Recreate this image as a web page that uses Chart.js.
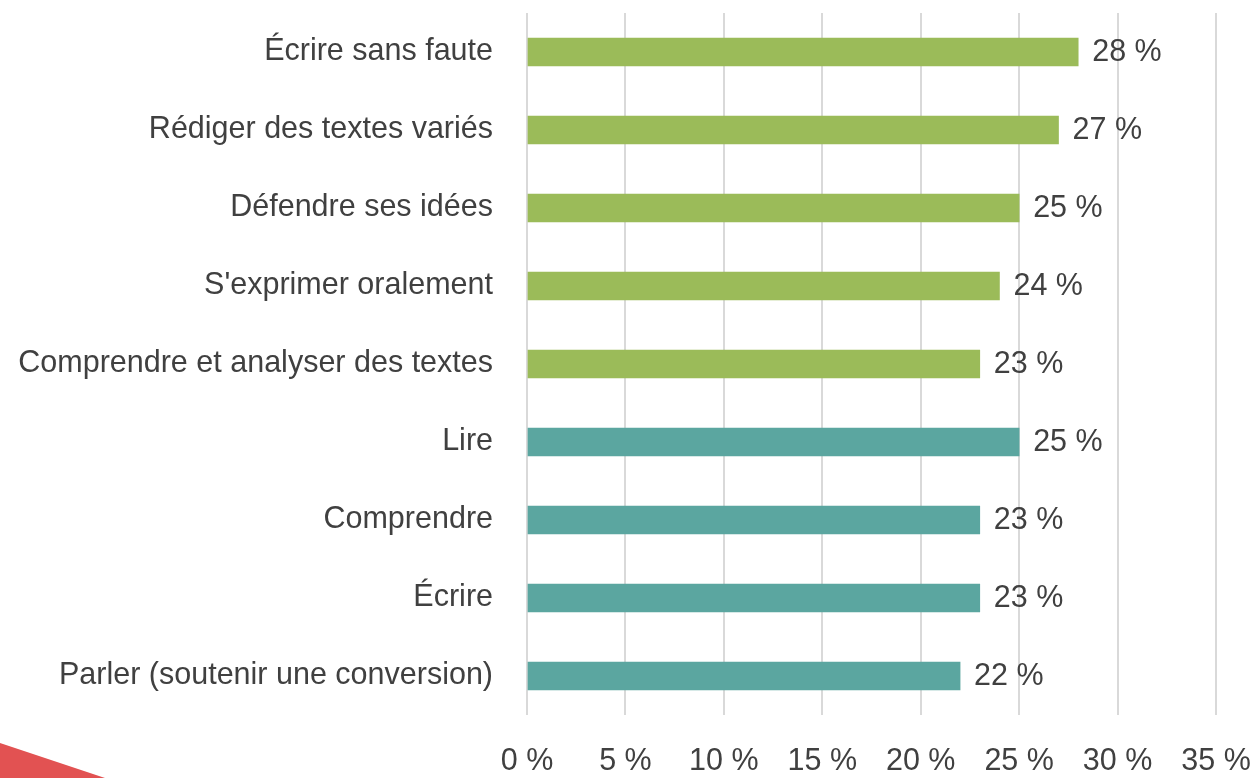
<!DOCTYPE html>
<html><head><meta charset="utf-8">
<script src="https://cdn.jsdelivr.net/npm/chart.js@4"></script>
<style>html,body{margin:0;padding:0;background:#fff}#wrap{width:1254px;height:778px;position:relative}</style>
</head><body><div id="wrap"><canvas id="c"></canvas></div>
<script>
const categories = ["Écrire sans faute","Rédiger des textes variés","Défendre ses idées","S'exprimer oralement","Comprendre et analyser des textes","Lire","Comprendre","Écrire","Parler (soutenir une conversion)"];
const values = [28,27,25,24,23,25,23,23,22];
const barColors = ["#9BBB59","#9BBB59","#9BBB59","#9BBB59","#9BBB59","#5BA6A0","#5BA6A0","#5BA6A0","#5BA6A0"];
const xTicks = [0,5,10,15,20,25,30,35];
const FONT = "'Liberation Sans Narrow', 'Liberation Sans', Arial, sans-serif";
const FS = 30.5;
const TXT = "#404040";

const labelPlugin = {
  id:'vals',
  afterDatasetsDraw(chart){
    const ctx = chart.ctx; const meta = chart.getDatasetMeta(0);
    ctx.save(); ctx.font = FS + "px " + FONT; ctx.fillStyle = TXT; ctx.textBaseline='middle'; ctx.textAlign='left';
    meta.data.forEach((b,i)=>{ ctx.fillText(values[i] + " %", b.x + 14, b.y + 1); });
    ctx.restore();
  }
};
const cornerPlugin = {
  id:'corner',
  afterDraw(chart){
    const ctx = chart.ctx; ctx.save(); ctx.fillStyle = "#E25252";
    ctx.beginPath(); ctx.moveTo(0,743); ctx.lineTo(105,778); ctx.lineTo(0,778); ctx.closePath(); ctx.fill(); ctx.restore();
  }
};
new Chart(document.getElementById('c'), {
  type:'bar',
  data:{labels:categories, datasets:[{data:values, backgroundColor:barColors, barThickness:28}]},
  options:{
    indexAxis:'y', responsive:true, maintainAspectRatio:false, animation:false,
    layout:{padding:{top:13,right:38,left:0,bottom:0}},
    plugins:{legend:{display:false}, tooltip:{enabled:false}},
    scales:{
      x:{min:0,max:35, afterBuildTicks(s){s.ticks = xTicks.map(v=>({value:v}));},
        afterFit(s){s.height = 63; s.paddingLeft = 0; s.paddingRight = 0;},
        grid:{color:"#D9D9D9", lineWidth:2, drawTicks:false}, border:{display:false},
        ticks:{padding:28, color:TXT, font:{size:FS, family:FONT}, callback:v=>v+" %"}},
      y:{afterFit(s){s.width = 527; s.paddingTop = 0; s.paddingBottom = 0;}, grid:{display:false, drawTicks:false}, border:{display:false},
        ticks:{padding:34, color:TXT, font:{size:FS, family:FONT}}}
    }
  },
  plugins:[labelPlugin, cornerPlugin]
});
</script></body></html>
